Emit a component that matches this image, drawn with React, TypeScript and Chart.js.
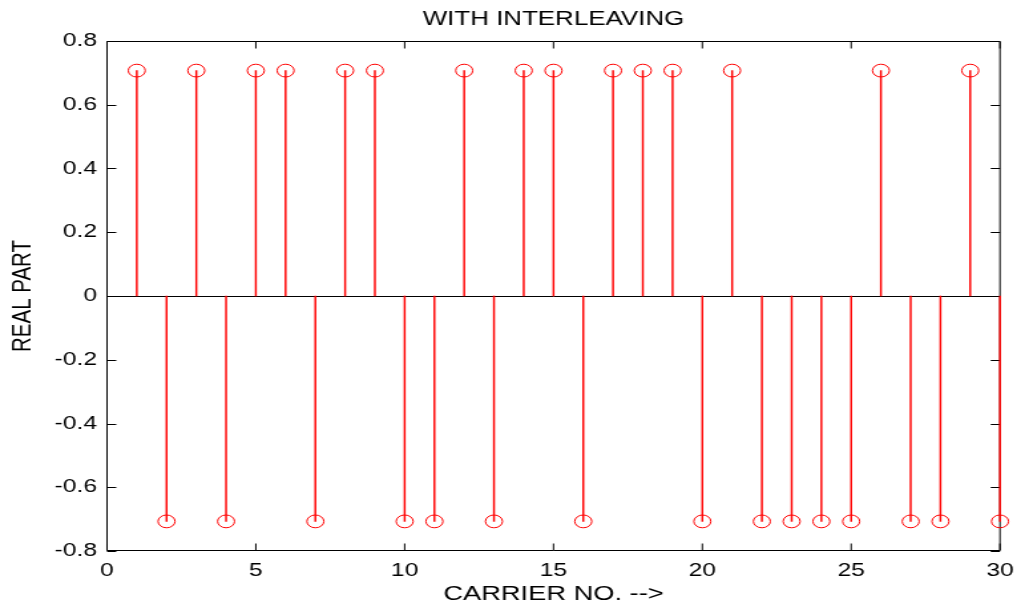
import React, { useEffect, useRef } from 'react';
import { Chart, registerables } from 'chart.js';

Chart.register(...registerables);

// ---- data ----
const carriers = [1, 2, 3, 4, 5, 6, 7, 8, 9, 10, 11, 12, 13, 14, 15, 16, 17, 18, 19, 20, 21, 22, 23, 24, 25, 26, 27, 28, 29, 30];
const realPart = [
  0.7071, -0.7071, 0.7071, -0.7071, 0.7071, 0.7071, -0.7071, 0.7071, 0.7071, -0.7071,
  -0.7071, 0.7071, -0.7071, 0.7071, 0.7071, -0.7071, 0.7071, 0.7071, 0.7071, -0.7071,
  0.7071, -0.7071, -0.7071, -0.7071, -0.7071, 0.7071, -0.7071, -0.7071, 0.7071, -0.7071,
];
const xTickValues = [0, 5, 10, 15, 20, 25, 30];
const xTickLabels = ['0', '5', '10', '15', '20', '25', '30'];
const yTickValues = [-0.8, -0.6, -0.4, -0.2, 0, 0.2, 0.4, 0.6, 0.8];
const yTickLabels = ['-0.8', '-0.6', '-0.4', '-0.2', '0', '0.2', '0.4', '0.6', '0.8'];
const titleText = 'WITH INTERLEAVING';
const xLabel = 'CARRIER NO. -->';
const yLabel = 'REAL PART';

// ---- layout (reference image is horizontally stretched) ----
const VIEW_W = 1021;
const VIEW_H = 608;
const INNER_W = 768;
const SX = VIEW_W / INNER_W;
const FONT = "'Liberation Sans', Arial, sans-serif";
const RED = 'rgb(255,0,0)';

const framePlugin = {
  id: 'matlabFrame',
  beforeDatasetsDraw(chart: any) {
    const { ctx, chartArea: a, scales } = chart;
    const x = scales.x;
    const y = scales.y;
    const top = Math.round(a.top) + 0.5;
    const bottom = Math.round(a.bottom) - 0.5;
    const left = a.left;
    const right = a.right;
    const L = 7;
    ctx.save();
    ctx.strokeStyle = '#000';
    ctx.lineWidth = 1;
    ctx.beginPath();
    ctx.rect(left, top, right - left, bottom - top);
    const y0 = Math.round(y.getPixelForValue(0)) + 0.5;
    ctx.moveTo(left, y0);
    ctx.lineTo(right, y0);
    x.ticks.forEach((t: any) => {
      const px = x.getPixelForValue(t.value);
      ctx.moveTo(px, bottom);
      ctx.lineTo(px, bottom - L);
      ctx.moveTo(px, top);
      ctx.lineTo(px, top + L);
    });
    y.ticks.forEach((t: any) => {
      const py = Math.round(y.getPixelForValue(t.value)) + 0.5;
      ctx.moveTo(left, py);
      ctx.lineTo(left + L, py);
      ctx.moveTo(right, py);
      ctx.lineTo(right - L, py);
    });
    ctx.stroke();
    ctx.restore();
  },
};

export default function App() {
  const canvasRef = useRef<HTMLCanvasElement | null>(null);

  useEffect(() => {
    const canvas = canvasRef.current;
    if (!canvas) return;
    const points = carriers.map((c, i) => ({ x: c, y: realPart[i] }));
    const chart = new Chart(canvas, {
      type: 'bar',
      data: {
        datasets: [
          {
            type: 'line',
            label: 'markers',
            data: points,
            showLine: false,
            pointStyle: 'circle',
            pointRadius: 6.4,
            pointHoverRadius: 6.4,
            pointBorderWidth: 1,
            pointBackgroundColor: 'rgba(0,0,0,0)',
            pointBorderColor: RED,
            borderColor: RED,
            clip: false,
            order: 0,
          } as any,
          {
            type: 'bar',
            label: 'stems',
            data: points,
            backgroundColor: RED,
            borderWidth: 0,
            barThickness: 0.8,
            clip: false,
            order: 1,
          } as any,
        ],
      },
      options: {
        animation: false,
        responsive: false,
        devicePixelRatio: 1,
        layout: { padding: { top: 0, left: 0, right: 15.8, bottom: 0 } },
        plugins: {
          legend: { display: false },
          tooltip: { enabled: false },
          title: {
            display: true,
            fullSize: false,
            text: titleText,
            color: '#000',
            font: { family: FONT, size: 19.5, weight: 'normal', lineHeight: 1.2 },
            padding: { top: 8.3, bottom: 9.3 },
          },
        },
        scales: {
          x: {
            type: 'linear',
            min: 0,
            max: 30,
            offset: false,
            grid: { display: false, drawTicks: false },
            border: { display: false },
            afterBuildTicks: (scale: any) => {
              scale.ticks = xTickValues.map((v) => ({ value: v }));
            },
            afterFit: (scale: any) => {
              scale.height = VIEW_H - 551;
              scale.paddingLeft = 0;
              scale.paddingRight = 0;
            },
            ticks: {
              color: '#000',
              padding: 9,
              maxRotation: 0,
              autoSkip: false,
              font: { family: FONT, size: 18.5 },
              callback: (_v: any, i: number) => xTickLabels[i],
            },
            title: {
              display: true,
              text: xLabel,
              color: '#000',
              font: { family: FONT, size: 20.5, lineHeight: 1.2 },
              padding: { top: 0, bottom: 1.7 },
            },
          },
          y: {
            type: 'linear',
            min: -0.8,
            max: 0.8,
            grid: { display: false, drawTicks: false },
            border: { display: false },
            afterBuildTicks: (scale: any) => {
              scale.ticks = yTickValues.map((v) => ({ value: v }));
            },
            afterFit: (scale: any) => {
              scale.width = 107 / SX;
              scale.paddingTop = 0;
              scale.paddingBottom = 0;
            },
            ticks: {
              color: '#000',
              padding: 7.5,
              autoSkip: false,
              font: { family: FONT, size: 18.5 },
              callback: (_v: any, i: number) => yTickLabels[i],
            },
            title: {
              display: true,
              text: yLabel,
              color: '#000',
              font: { family: FONT, size: 20.5, lineHeight: 1.2 },
              padding: { top: 5, bottom: 0 },
            },
          },
        },
      } as any,
      plugins: [framePlugin],
    });
    return () => chart.destroy();
  }, []);

  return (
    <div
      style={{
        position: 'fixed',
        left: 0,
        top: 0,
        width: VIEW_W,
        height: VIEW_H,
        overflow: 'hidden',
        background: '#fff',
      }}
    >
      <canvas
        ref={canvasRef}
        width={INNER_W}
        height={VIEW_H}
        style={{
          width: INNER_W,
          height: VIEW_H,
          display: 'block',
          transform: `scaleX(${SX})`,
          transformOrigin: '0 0',
        }}
      />
    </div>
  );
}
